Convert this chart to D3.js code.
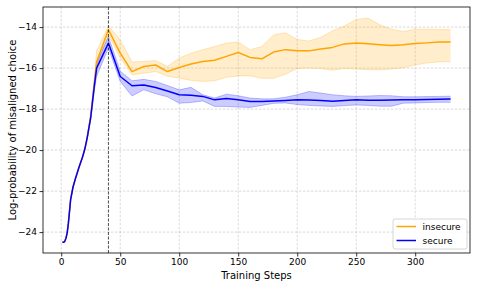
<!DOCTYPE html>
<html>
<head>
<meta charset="utf-8">
<script src="https://cdn.jsdelivr.net/npm/d3@7"></script>
<style>
  body { margin: 0; background: #fff; }
  svg text { font-family: "DejaVu Sans", sans-serif; fill: #000; }
</style>
</head>
<body>
<div id="chart"></div>
<script>
var width = 478, height = 287;
var margin = {top: 7, right: 8, bottom: 34, left: 43};

// training steps (x values)
var steps = [1, 2, 3, 4, 5, 6, 7, 8, 10, 12, 15, 18, 20, 22, 25, 28, 30,
	40, 50, 60, 70, 80, 90, 100, 110, 120, 130, 140, 150, 160, 170, 180, 190,
	200, 210, 220, 230, 240, 250, 260, 270, 280, 290, 300, 310, 320, 330];

var insecureMean = [-24.5, -24.5, -24.45, -24.3, -24.05, -23.6, -23.0, -22.4, -21.8, -21.4, -20.85, -20.35, -19.95, -19.4, -18.35, -16.75, -15.7,
	-14.13, -15.27, -16.17, -15.92, -15.85, -16.17, -15.97, -15.8, -15.68, -15.62, -15.43, -15.24, -15.48, -15.55, -15.22, -15.1,
	-15.16, -15.16, -15.07, -14.99, -14.82, -14.78, -14.81, -14.86, -14.9, -14.86, -14.8, -14.77, -14.73, -14.73];
var insecureUpper = [-24.5, -24.5, -24.45, -24.3, -24.05, -23.6, -23.0, -22.4, -21.8, -21.4, -20.85, -20.35, -19.95, -19.35, -18.2, -16.5, -15.15,
	-13.94, -14.62, -15.7, -15.68, -15.63, -15.92, -15.51, -15.27, -15.1, -14.95, -14.78, -14.73, -15.1, -14.95, -14.38, -14.27,
	-14.6, -14.68, -14.5, -14.18, -13.95, -13.63, -13.56, -13.89, -14.1, -14.22, -14.1, -14.1, -14.12, -14.13];
var insecureLower = [-24.5, -24.5, -24.45, -24.3, -24.05, -23.6, -23.0, -22.4, -21.8, -21.4, -20.85, -20.35, -19.95, -19.45, -18.5, -17.0, -15.9,
	-14.38, -15.5, -16.33, -16.25, -16.17, -16.4, -16.49, -16.6, -16.65, -16.62, -16.45, -16.38, -16.38, -16.5, -16.5, -16.3,
	-16.02, -16.0, -16.02, -16.1, -16.02, -16.05, -16.08, -16.08, -16.05, -15.98, -15.85, -15.75, -15.7, -15.68];

var secureMean = [-24.5, -24.5, -24.45, -24.3, -24.05, -23.6, -23.0, -22.4, -21.8, -21.4, -20.85, -20.35, -19.95, -19.4, -18.4, -16.9, -16.0,
	-14.78, -16.41, -16.86, -16.82, -16.95, -17.12, -17.3, -17.33, -17.38, -17.55, -17.48, -17.55, -17.63, -17.63, -17.6, -17.58,
	-17.55, -17.56, -17.58, -17.62, -17.58, -17.55, -17.57, -17.57, -17.56, -17.55, -17.54, -17.53, -17.52, -17.51];
var secureUpper = [-24.5, -24.5, -24.45, -24.3, -24.05, -23.6, -23.0, -22.4, -21.8, -21.4, -20.85, -20.35, -19.95, -19.35, -18.3, -16.7, -15.76,
	-14.46, -16.15, -16.62, -16.55, -16.65, -16.85, -17.06, -16.94, -17.3, -17.46, -17.27, -17.35, -17.46, -17.5, -17.5, -17.42,
	-17.3, -17.14, -17.22, -17.3, -17.35, -17.38, -17.36, -17.34, -17.35, -17.4, -17.4, -17.39, -17.38, -17.37];
var secureLower = [-24.5, -24.5, -24.45, -24.3, -24.05, -23.6, -23.0, -22.4, -21.8, -21.4, -20.85, -20.35, -19.95, -19.45, -18.5, -17.1, -16.4,
	-15.02, -16.65, -17.36, -17.06, -17.25, -17.4, -17.71, -17.68, -17.6, -17.87, -17.87, -17.9, -17.92, -17.82, -17.72, -17.7,
	-17.78, -17.82, -17.85, -17.87, -17.83, -17.8, -17.82, -17.86, -17.86, -17.71, -17.7, -17.68, -17.67, -17.67];

var xTicks = [0, 50, 100, 150, 200, 250, 300];
var yTicks = [-24, -22, -20, -18, -16, -14];
var seriesNames = ["insecure", "secure"];
var seriesColors = ["#FFA500", "#0000FF"];
var markerStep = 40;

var svg = d3.select("#chart").append("svg")
	.attr("width", width).attr("height", height);

var x = d3.scaleLinear().domain([-15.45, 346.45]).range([margin.left, width - margin.right]);
var y = d3.scaleLinear().domain([-25.02, -13.02]).range([height - margin.bottom, margin.top]);

render();

function render() {
	var plotL = margin.left, plotR = width - margin.right,
		plotT = margin.top, plotB = height - margin.bottom;

	// grid
	var grid = svg.append("g").attr("class", "grid");
	grid.selectAll(".gx").data(xTicks).enter().append("line")
		.attr("x1", d => x(d)).attr("x2", d => x(d))
		.attr("y1", plotT).attr("y2", plotB);
	grid.selectAll(".gy").data(yTicks).enter().append("line")
		.attr("x1", plotL).attr("x2", plotR)
		.attr("y1", d => y(d)).attr("y2", d => y(d));
	grid.selectAll("line")
		.attr("stroke", "#b0b0b0").attr("stroke-opacity", 0.6)
		.attr("stroke-width", 0.8).attr("stroke-dasharray", "2.5,1.5");

	svg.append("clipPath").attr("id", "clip").append("rect")
		.attr("x", plotL).attr("y", plotT).attr("width", plotR - plotL).attr("height", plotB - plotT);

	var series = [
		{name: "insecure", mean: insecureMean, lo: insecureLower, hi: insecureUpper, color: seriesColors[0]},
		{name: "secure", mean: secureMean, lo: secureLower, hi: secureUpper, color: seriesColors[1]}
	];

	var area = d3.area()
		.x((d, i) => x(steps[i]))
		.y0(d => y(d[0]))
		.y1(d => y(d[1]));
	var line = d3.line()
		.x((d, i) => x(steps[i]))
		.y(d => y(d));

	var g = svg.append("g").attr("clip-path", "url(#clip)");

	series.forEach(function(s) {
		var band = s.lo.map((v, i) => [v, s.hi[i]]);
		g.append("path").datum(band)
			.attr("d", area)
			.attr("fill", s.color).attr("fill-opacity", 0.2);
		g.append("path").datum(s.lo).attr("d", line)
			.attr("fill", "none").attr("stroke", s.color).attr("stroke-opacity", 0.3).attr("stroke-width", 0.8);
		g.append("path").datum(s.hi).attr("d", line)
			.attr("fill", "none").attr("stroke", s.color).attr("stroke-opacity", 0.3).attr("stroke-width", 0.8);
	});
	series.forEach(function(s) {
		g.append("path").datum(s.mean).attr("d", line)
			.attr("fill", "none").attr("stroke", s.color).attr("stroke-width", 1.5)
			.attr("stroke-linejoin", "round");
	});

	// vertical marker
	svg.append("line")
		.attr("x1", x(markerStep)).attr("x2", x(markerStep))
		.attr("y1", plotT).attr("y2", plotB)
		.attr("stroke", "#000").attr("stroke-opacity", 0.7)
		.attr("stroke-width", 1).attr("stroke-dasharray", "3,1.5");

	// axes
	var xAxis = d3.axisBottom(x).tickValues(xTicks).tickSize(3.5).tickPadding(2.5);
	var yAxis = d3.axisLeft(y).tickValues(yTicks).tickSize(3.5).tickPadding(2.5)
		.tickFormat(d => d3.format("d")(d).replace("-", "\u2212"));

	var gx = svg.append("g").attr("transform", "translate(0," + plotB + ")").call(xAxis);
	var gy = svg.append("g").attr("transform", "translate(" + plotL + ",0)").call(yAxis);
	[gx, gy].forEach(function(a) {
		a.select(".domain").remove();
		a.selectAll("line").attr("stroke", "#000").attr("stroke-width", 0.8);
		a.selectAll("text").attr("font-size", 9).attr("font-family", "DejaVu Sans");
	});

	svg.append("rect")
		.attr("x", plotL).attr("y", plotT)
		.attr("width", plotR - plotL).attr("height", plotB - plotT)
		.attr("fill", "none").attr("stroke", "#000").attr("stroke-width", 0.8);

	svg.append("text")
		.attr("x", (plotL + plotR) / 2).attr("y", 279)
		.attr("text-anchor", "middle").attr("font-size", 10)
		.text("Training Steps");
	svg.append("text")
		.attr("transform", "translate(15.5," + ((plotT + plotB) / 2) + ") rotate(-90)")
		.attr("text-anchor", "middle").attr("font-size", 10)
		.text("Log-probability of misaligned choice");

	// legend
	var lg = svg.append("g").attr("transform", "translate(393,219)");
	lg.append("rect").attr("width", 74).attr("height", 30).attr("rx", 2)
		.attr("fill", "#fff").attr("fill-opacity", 0.8)
		.attr("stroke", "#ccc").attr("stroke-width", 0.8);
	var items = lg.selectAll(".item").data(seriesNames).enter().append("g")
		.attr("transform", (d, i) => "translate(0," + (7.5 + i * 14) + ")");
	items.append("line").attr("x1", 3.5).attr("x2", 23)
		.attr("stroke", (d, i) => seriesColors[i]).attr("stroke-width", 1.5);
	items.append("text").attr("x", 29.5).attr("dy", "0.35em")
		.attr("font-size", 9).text(d => d);
}
</script>
</body>
</html>
